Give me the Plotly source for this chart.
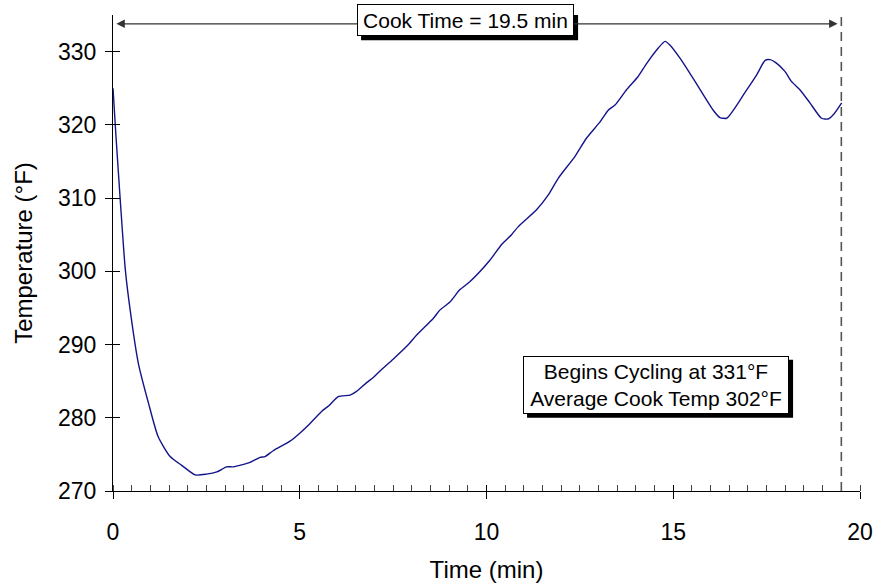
import plotly.graph_objects as go

time_min = [0, 0.08, 0.2, 0.33, 0.46, 0.68, 0.95, 1.21, 1.53, 1.84, 2.2, 2.5, 2.78,
            3.04, 3.22, 3.67, 3.94, 4.07, 4.29, 4.74, 5.0, 5.27, 5.59, 5.77, 6.03,
            6.35, 6.52, 6.79, 6.97, 7.15, 7.5, 7.91, 8.13, 8.58, 8.75, 9.02, 9.29,
            9.56, 10.09, 10.41, 10.67, 10.85, 11.34, 11.65, 11.92, 12.37, 12.68,
            13.04, 13.26, 13.44, 13.75, 14.06, 14.29, 14.6, 14.78, 14.91, 15.18,
            15.45, 15.72, 16.07, 16.25, 16.43, 16.61, 16.88, 17.23, 17.46, 17.59,
            17.77, 17.99, 18.17, 18.39, 18.66, 18.97, 19.15, 19.29, 19.51]
temp_f = [325.0, 318.4, 309.3, 300.2, 294.7, 287.4, 282.0, 277.4, 274.7, 273.5, 272.2,
          272.3, 272.6, 273.3, 273.3, 273.9, 274.6, 274.7, 275.5, 276.8, 277.9, 279.2,
          280.9, 281.6, 282.9, 283.1, 283.6, 284.8, 285.5, 286.4, 288.0, 290.0, 291.3,
          293.6, 294.7, 295.8, 297.5, 298.6, 301.5, 303.7, 305.0, 306.1, 308.4, 310.4,
          312.7, 315.7, 318.2, 320.4, 322.0, 322.7, 324.8, 326.6, 328.4, 330.5, 331.4,
          330.9, 329.1, 327.0, 324.8, 322.0, 321.0, 320.9, 322.0, 324.1, 326.8, 328.8,
          328.9, 328.4, 327.3, 325.9, 324.8, 323.0, 320.9, 320.8, 321.4, 323.0]

cook_time = 19.5
arrow_y = 333.8
cook_label = "Cook Time = 19.5 min"
cook_label_x = 9.44
cook_label_y = 334.3
info_lines = ["Begins Cycling at 331°F", "Average Cook Temp 302°F"]
info_x = 14.54
info_y = 284.5

x_range = [0, 20]
y_range = [270, 335]
y_ticks = [270, 280, 290, 300, 310, 320, 330]

FONT = "Liberation Sans, Arial, sans-serif"

fig = go.Figure()
fig.add_trace(go.Scatter(x=time_min, y=temp_f, mode="lines",
                         line=dict(color="#14148a", width=1.4, shape="spline", smoothing=0.6),
                         hoverinfo="skip", showlegend=False))
# invisible trace for overlay axes (inside parts of crossing ticks)
fig.add_trace(go.Scatter(x=[x_range[0]], y=[y_range[0]], xaxis="x2", yaxis="y2",
                         mode="markers", marker=dict(opacity=0), showlegend=False,
                         hoverinfo="skip"))

fig.update_layout(
    width=892, height=585,
    margin=dict(l=113, r=32, t=15, b=94, autoexpand=False),
    paper_bgcolor="white", plot_bgcolor="white",
    font=dict(family=FONT, size=24, color="black"),
    showlegend=False,
    xaxis=dict(range=x_range, dtick=5, tick0=0, showgrid=False, zeroline=False,
               automargin=False,
               showline=True, linecolor="black", linewidth=1,
               ticks="outside", ticklen=7, tickcolor="black", tickwidth=1,
               ticklabelstandoff=13,
               tickfont=dict(size=23),
               minor=dict(dtick=0.5, ticks="inside", ticklen=6, tickcolor="#444444",
                          tickwidth=1, showgrid=False),
               title=dict(text="Time (min)", font=dict(size=24), standoff=17)),
    yaxis=dict(range=y_range, tickvals=y_ticks,
               showgrid=False, zeroline=False, automargin=False,
               showline=True, linecolor="black", linewidth=1,
               ticks="outside", ticklen=7, tickcolor="black", tickwidth=1,
               ticklabelstandoff=4,
               tickfont=dict(size=23),
               title=dict(text="Temperature (°F)", font=dict(size=24), standoff=18)),
    xaxis2=dict(range=x_range, overlaying="x", dtick=5, tick0=0, showgrid=False,
                zeroline=False, showline=False, ticks="inside", ticklen=6,
                automargin=False, tickcolor="black", showticklabels=False),
    yaxis2=dict(range=y_range, overlaying="y", tickvals=y_ticks,
                showgrid=False, zeroline=False, showline=False, ticks="inside",
                automargin=False, ticklen=7, tickcolor="black", showticklabels=False),
)

# dashed vertical line at cook time
fig.add_shape(type="line", xref="x", yref="paper", x0=cook_time, x1=cook_time,
              y0=0, y1=1.007, line=dict(color="#555555", width=1.6, dash="9px,6px"))

# double-headed arrow
fig.add_annotation(x=cook_time - 0.1, y=arrow_y, ax=0.05, ay=arrow_y,
                   xref="x", yref="y", axref="x", ayref="y", text="",
                   showarrow=True, arrowhead=2, startarrowhead=2, arrowside="end+start",
                   arrowsize=1.3, startarrowsize=1.3, arrowwidth=1.3, arrowcolor="#333333")

PAD = 3
BW = 1
SH = 4

def boxed(text, x, y, size, w, h):
    # drop shadow as a pixel-sized shape anchored at the label position
    fig.add_shape(type="rect", xref="x", yref="y", xsizemode="pixel", ysizemode="pixel",
                  xanchor=x, yanchor=y,
                  x0=-w / 2 + SH, x1=w / 2 + SH, y0=-h / 2 - SH, y1=h / 2 - SH,
                  fillcolor="black", line=dict(width=0), layer="above")
    fig.add_annotation(x=x, y=y, xref="x", yref="y", text=text, showarrow=False,
                       font=dict(size=size, color="black", family=FONT),
                       width=w - 2 * (PAD + BW), height=h - 2 * (PAD + BW),
                       bgcolor="white", bordercolor="black", borderwidth=BW, borderpad=PAD)

boxed(cook_label, cook_label_x, cook_label_y, 21, 217, 32)
boxed("<br>".join(info_lines), info_x, info_y, 21, 266, 58)

fig.write_html("out.html")
